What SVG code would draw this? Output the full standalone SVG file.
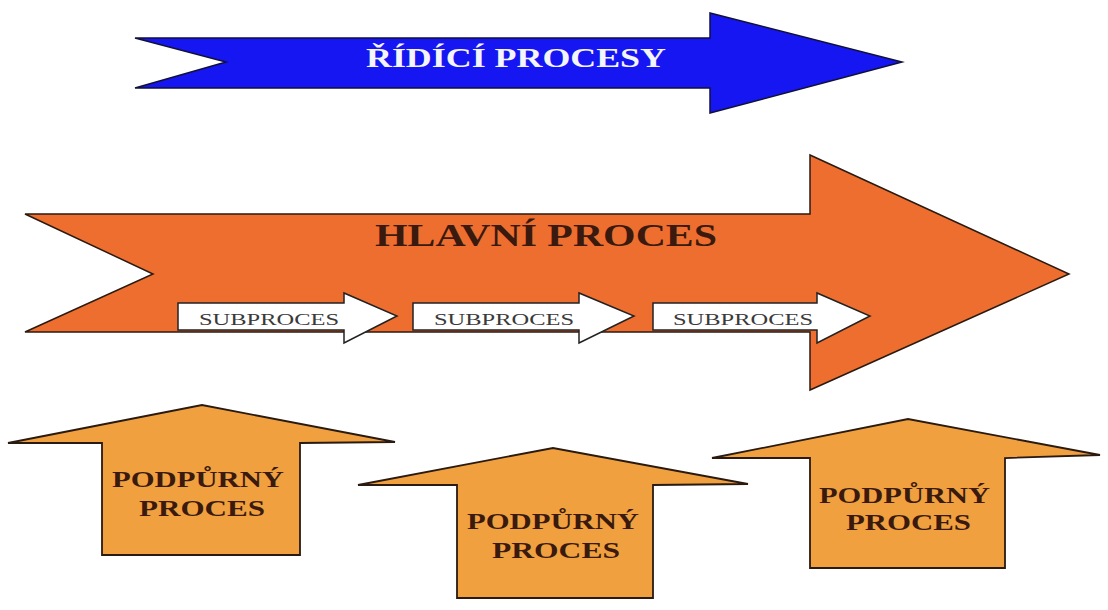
<svg xmlns="http://www.w3.org/2000/svg" width="1108" height="610" viewBox="0 0 1108 610">
<style>
.bg{fill:#ffffff}
.blue{fill:#1616f2;stroke:#10103a;stroke-width:1.5;stroke-linejoin:miter}
.main{fill:#ee6e30;stroke:#2a1a10;stroke-width:1.5}
.sub{fill:#ffffff;stroke:#222;stroke-width:1.5}
.sup{fill:#f1a040;stroke:#2a1a10;stroke-width:1.8}
.tw{font-family:"Liberation Serif",serif;font-weight:bold;fill:#f4f4fb}
.td{font-family:"Liberation Serif",serif;font-weight:bold;fill:#3a1a0e}
.ts{font-family:"Liberation Serif",serif;fill:#3a3a3a}
</style>
<rect class="bg" width="1108" height="610"/>
<g id="ridici">
<polygon class="blue" points="135,38 710,38 710,13 902,62 710,113 710,88 135,88 226,62"/>
<text class="tw" x="366" y="67" font-size="27" textLength="300" lengthAdjust="spacingAndGlyphs">ŘÍDÍCÍ PROCESY</text>
</g>
<g id="hlavni">
<polygon class="main" points="25,214 810,214 810,155 1069,274 810,390 810,332 25,332 153,274"/>
<text class="td" x="375" y="246" font-size="31" textLength="342" lengthAdjust="spacingAndGlyphs">HLAVNÍ PROCES</text>
</g>
<g id="sub1">
<polygon class="sub" points="178,303 344,303 344,293 397,316 344,343 344,330 178,330"/>
<text class="ts" x="199" y="325" font-size="17" textLength="140" lengthAdjust="spacingAndGlyphs">SUBPROCES</text>
</g>
<g id="sub2">
<polygon class="sub" points="413,303 579,303 579,293 634,316 579,343 579,330 413,330"/>
<text class="ts" x="434" y="325" font-size="17" textLength="140" lengthAdjust="spacingAndGlyphs">SUBPROCES</text>
</g>
<g id="sub3">
<polygon class="sub" points="653,303 817,303 817,293 870,316 817,343 817,330 653,330"/>
<text class="ts" x="673" y="325" font-size="17" textLength="140" lengthAdjust="spacingAndGlyphs">SUBPROCES</text>
</g>
<g id="podpurny1">
<polygon class="sup" points="8,443 202,405 395,442 300,443 300,555 102,555 102,443"/>
<text class="td" x="112" y="487" font-size="24" textLength="172" lengthAdjust="spacingAndGlyphs">PODPŮRNÝ</text>
<text class="td" x="139" y="516" font-size="24" textLength="126" lengthAdjust="spacingAndGlyphs">PROCES</text>
</g>
<g id="podpurny2">
<polygon class="sup" points="358,485 553,448 748,484 653,485 653,598 457,598 457,485"/>
<text class="td" x="467" y="529" font-size="24" textLength="172" lengthAdjust="spacingAndGlyphs">PODPŮRNÝ</text>
<text class="td" x="492" y="558" font-size="24" textLength="128" lengthAdjust="spacingAndGlyphs">PROCES</text>
</g>
<g id="podpurny3">
<polygon class="sup" points="712,458 908,419 1100,455 1005,458 1005,568 810,568 810,458"/>
<text class="td" x="819" y="503" font-size="24" textLength="171" lengthAdjust="spacingAndGlyphs">PODPŮRNÝ</text>
<text class="td" x="846" y="530" font-size="24" textLength="125" lengthAdjust="spacingAndGlyphs">PROCES</text>
</g>
<g id="connectors"></g>
</svg>
